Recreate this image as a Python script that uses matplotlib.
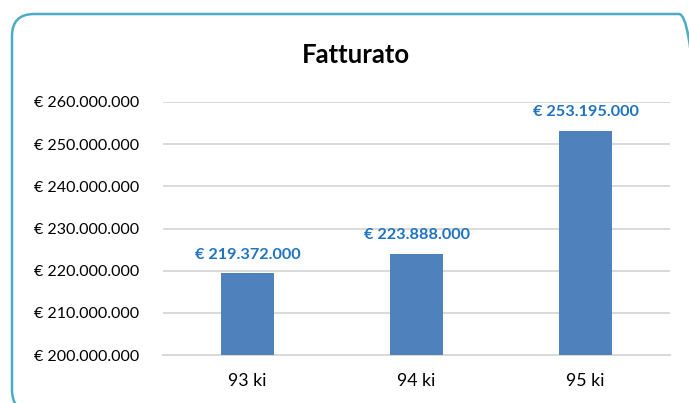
import matplotlib
matplotlib.use("Agg")
import matplotlib.pyplot as plt
from matplotlib.patches import FancyBboxPatch
from matplotlib.ticker import FuncFormatter

categories = ["93 ki", "94 ki", "95 ki"]
fatturato = [219372000, 223888000, 253195000]
y_ticks = [200000000, 210000000, 220000000, 230000000, 240000000, 250000000, 260000000]

plt.rcParams['font.family'] = ['Lato', 'DejaVu Sans']


def euro(v, pos=None):
    return "€ " + "{:,.0f}".format(v).replace(",", ".")


fig = plt.figure(figsize=(6.89, 4.03), dpi=100)
ax = fig.add_axes([0.2366, 0.1191, 0.7358, 0.6278])

x = range(len(categories))
ax.bar(x, fatturato, width=0.314, color="#4F81BD", zorder=3)

for xi, v in zip(x, fatturato):
    ax.annotate(euro(v), (xi, v), xytext=(0, 8.5), textcoords="offset points",
                ha="center", va="bottom", fontsize=11.7, fontweight="bold",
                color="#1F73C1")

ax.set_ylim(200000000, 260000000)
ax.set_xlim(-0.5, 2.5)
ax.set_yticks(y_ticks)
ax.yaxis.set_major_formatter(FuncFormatter(euro))
ax.set_xticks(list(x))
ax.set_xticklabels(categories)
ax.tick_params(axis="y", length=0, labelsize=11.5, pad=17, colors="#000000")
ax.tick_params(axis="x", length=0, labelsize=12.8, pad=13)
ax.grid(axis="y", color="#D9D9D9", linewidth=1.4, zorder=0)
for s in ["top", "right", "left"]:
    ax.spines[s].set_visible(False)
ax.spines["bottom"].set_color("#D9D9D9")
ax.spines["bottom"].set_linewidth(1.4)

fig.text(0.517, 1 - 55 / 403, "Fatturato", ha="center", va="center",
         fontsize=18.5, fontweight="bold")

# bordo arrotondato (esce a destra e in basso)
bl, bt, br, bb = 12, 14, 701, 412
border = FancyBboxPatch((bl / 689, 1 - bb / 403), (br - bl) / 689, (bb - bt) / 403,
                        boxstyle="round,pad=0,rounding_size=0.032",
                        transform=fig.transFigure, fill=False,
                        edgecolor="#4BACC6", linewidth=1.8,
                        mutation_aspect=689 / 403, clip_on=False)
fig.patches.append(border)

fig.savefig("out.png", dpi=100)
